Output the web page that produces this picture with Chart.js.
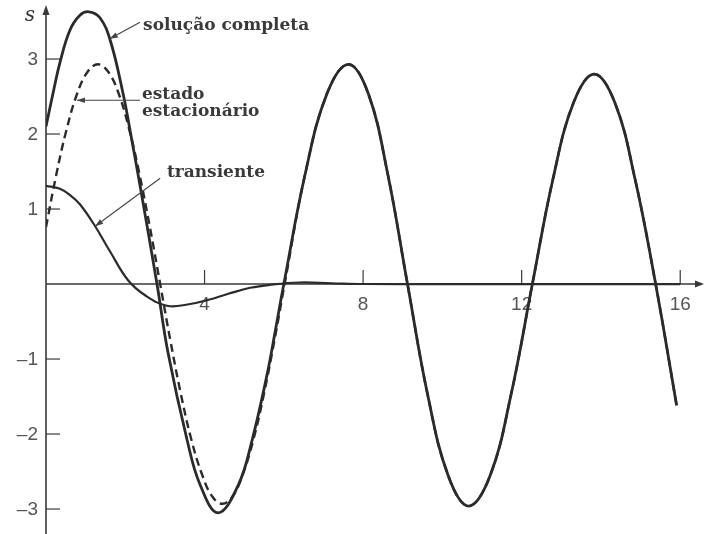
<!DOCTYPE html>
<html>
<head>
<meta charset="utf-8">
<script src="https://cdn.jsdelivr.net/npm/chart.js@4"></script>
<style>
  html, body { margin: 0; padding: 0; background: #fff; }
  #wrap { width: 704px; height: 534px; }
</style>
</head>
<body>
<div id="wrap"><canvas id="chart" width="704" height="534"></canvas></div>
<script>
"use strict"

/*====================================================================
Data
====================================================================*/
// solução completa  (t, s)
const fullT = [0, 0.2, 0.35, 0.6, 0.85, 1.08, 1.36, 1.62, 1.94, 2.12, 2.37, 2.8, 3.08, 3.56, 3.89, 4.34, 4.85, 5.2, 5.58, 5.8, 6.0,
               6.54, 7.09, 7.63, 8.13, 8.62, 9.12, 9.63, 10.15, 10.66, 11.2, 11.73, 12.27,
               12.79, 13.31, 13.83, 14.35, 14.86, 15.38, 15.91]
const fullS = [2.10, 2.6, 2.95, 3.38, 3.58, 3.63, 3.55, 3.25, 2.55, 2.05, 1.32, 0, -0.92, -2.08, -2.68, -3.05, -2.68, -2.08, -1.2, -0.58, 0,
               1.47, 2.54, 2.93, 2.54, 1.47, 0, -1.48, -2.56, -2.96, -2.56, -1.48, 0,
               1.40, 2.42, 2.80, 2.42, 1.40, 0, -1.62]

// estado estacionário
const steadyT = [0, 0.26, 0.5, 0.78, 1.05, 1.31, 1.57, 1.84, 2.1, 2.36, 2.62, 2.88, 3.14, 3.4, 3.66, 3.93, 4.19, 4.45, 4.71, 4.97, 5.24, 5.5, 5.76, 6.02,
                 6.54, 7.09, 7.63, 8.13, 8.62, 9.12, 9.63, 10.15, 10.66, 11.2, 11.73, 12.27,
                 12.79, 13.31, 13.83, 14.35, 14.86, 15.38, 15.91]
const steadyS = [0.76, 1.46, 2.02, 2.53, 2.83, 2.93, 2.83, 2.53, 2.06, 1.46, 0.76, 0, -0.76, -1.46, -2.06, -2.53, -2.83, -2.93, -2.83, -2.53, -2.06, -1.46, -0.76, 0,
                 1.47, 2.54, 2.93, 2.54, 1.47, 0, -1.48, -2.56, -2.96, -2.56, -1.48, 0,
                 1.40, 2.42, 2.80, 2.42, 1.40, 0, -1.62]

// transiente
const transT = [0, 0.35, 0.6, 0.86, 1.24, 1.62, 2.07, 2.5, 3.05, 3.6, 4.1, 4.6, 5.15, 5.66, 6.4, 7.2, 8, 10, 12, 14, 16]
const transS = [1.31, 1.27, 1.19, 1.06, 0.77, 0.43, 0.05, -0.15, -0.29, -0.27, -0.21, -0.13, -0.05, -0.01, 0.02, 0.01, 0, 0, 0, 0, 0]

// axis ticks
const xTicks = [4, 8, 12, 16]
const yTicks = [3, 2, 1, -1, -2, -3]

/*====================================================================
Functions
====================================================================*/
function points(ts, ss){
    return ts.map((t, i) => ({x: t, y: ss[i]}))
}

const INK = "#2b2b2b"

// small filled arrowhead at (x, y) pointing away from (fx, fy)
function arrowHead(ctx, fx, fy, x, y, len, half){
    const a = Math.atan2(y - fy, x - fx)
    ctx.beginPath()
    ctx.moveTo(x, y)
    ctx.lineTo(x - len*Math.cos(a) + half*Math.sin(a), y - len*Math.sin(a) - half*Math.cos(a))
    ctx.lineTo(x - len*Math.cos(a) - half*Math.sin(a), y - len*Math.sin(a) + half*Math.cos(a))
    ctx.closePath()
    ctx.fill()
}

// axes, ticks and tick labels drawn through the chart scales
const axesPlugin = {
    id: "axes",
    beforeDatasetsDraw(chart){
        const ctx = chart.ctx
        const xs = chart.scales.x, ys = chart.scales.y
        const x0 = xs.getPixelForValue(0), y0 = ys.getPixelForValue(0)
        ctx.save()
        ctx.strokeStyle = "#3a3a3a"
        ctx.fillStyle = "#3a3a3a"
        ctx.lineWidth = 1.6

        // x axis
        ctx.beginPath()
        ctx.moveTo(x0, y0)
        ctx.lineTo(chart.width - 2, y0)
        ctx.stroke()
        arrowHead(ctx, x0, y0, chart.width, y0, 9, 3.5)

        // y axis
        ctx.beginPath()
        ctx.moveTo(x0, chart.height)
        ctx.lineTo(x0, 10)
        ctx.stroke()
        arrowHead(ctx, x0, chart.height, x0, 5, 10, 3.5)

        ctx.lineWidth = 1.2
        ctx.font = "19px 'Liberation Sans', Arial, sans-serif"
        ctx.fillStyle = "#555"

        // x ticks go up from the axis
        ctx.textAlign = "center"
        ctx.textBaseline = "middle"
        for (const t of xTicks){
            const px = xs.getPixelForValue(t)
            ctx.beginPath()
            ctx.moveTo(px, y0)
            ctx.lineTo(px, y0 - 14)
            ctx.stroke()
            ctx.fillText(String(t), px, y0 + 21)
        }

        // y ticks go right of the axis
        ctx.textAlign = "right"
        for (const s of yTicks){
            const py = ys.getPixelForValue(s)
            ctx.beginPath()
            ctx.moveTo(x0, py)
            ctx.lineTo(x0 + 14, py)
            ctx.stroke()
            ctx.fillText(s < 0 ? "\u2013" + Math.abs(s) : String(s), x0 - 8, py + 1)
        }

        // axis name
        ctx.font = "italic 20px 'DejaVu Serif', serif"
        ctx.fillStyle = "#333"
        ctx.textAlign = "center"
        ctx.fillText("s", x0 - 16, 16)
        ctx.restore()
    }
}

// labels with pointer arrows, anchored in data units
const notes = [
    {lines: ["solução completa"], tip: [1.61, 3.27], tail: [2.37, 3.49], at: [2.45, 3.45]},
    {lines: ["estado", "estacionário"], tip: [0.78, 2.45], tail: [2.37, 2.45], at: [2.42, 2.52]},
    {lines: ["transiente"], tip: [1.24, 0.77], tail: [2.88, 1.41], at: [3.05, 1.48]}
]

const notesPlugin = {
    id: "notes",
    afterDatasetsDraw(chart){
        const ctx = chart.ctx
        const xs = chart.scales.x, ys = chart.scales.y
        ctx.save()
        ctx.strokeStyle = "#444"
        ctx.fillStyle = "#444"
        ctx.lineWidth = 1.1
        for (const n of notes){
            const tx = xs.getPixelForValue(n.tip[0]), ty = ys.getPixelForValue(n.tip[1])
            const sx = xs.getPixelForValue(n.tail[0]), sy = ys.getPixelForValue(n.tail[1])
            ctx.beginPath()
            ctx.moveTo(sx, sy)
            ctx.lineTo(tx, ty)
            ctx.stroke()
            arrowHead(ctx, sx, sy, tx, ty, 8, 2.8)
        }
        ctx.font = "bold 17px 'DejaVu Serif', serif"
        ctx.fillStyle = "#3a3a3a"
        ctx.textAlign = "left"
        ctx.textBaseline = "middle"
        for (const n of notes){
            const lx = xs.getPixelForValue(n.at[0]), ly = ys.getPixelForValue(n.at[1])
            n.lines.forEach((txt, i) => ctx.fillText(txt, lx, ly + i*17))
        }
        ctx.restore()
    }
}

/*====================================================================
Chart
====================================================================*/
const line = {pointRadius: 0, fill: false, tension: 0.4, borderColor: INK}

new Chart(document.getElementById("chart"), {
    type: "line",
    data: {
        datasets: [
            {...line, label: "estado estacionário", data: points(steadyT, steadyS), borderWidth: 2.4, borderDash: [8, 5]},
            {...line, label: "transiente", data: points(transT, transS), borderWidth: 2.2},
            {...line, label: "solução completa", data: points(fullT, fullS), borderWidth: 2.8}
        ]
    },
    options: {
        responsive: false,
        animation: false,
        layout: {padding: {left: 46, right: 0, top: 0, bottom: 0}},
        plugins: {legend: {display: false}, tooltip: {enabled: false}},
        scales: {
            x: {type: "linear", min: 0, max: 16.6, display: false},
            y: {type: "linear", min: -3.333, max: 3.787, display: false}
        }
    },
    plugins: [axesPlugin, notesPlugin]
})
</script>
</body>
</html>
